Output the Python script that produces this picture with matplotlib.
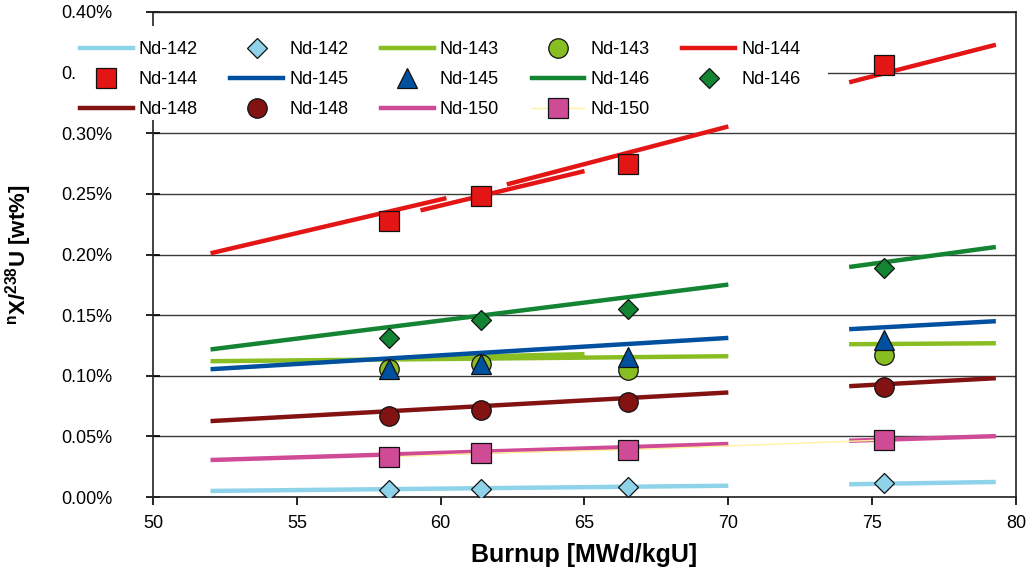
import matplotlib
matplotlib.use("Agg")
import matplotlib.pyplot as plt
from matplotlib.lines import Line2D
from matplotlib.patches import Rectangle
from matplotlib.ticker import FuncFormatter, MultipleLocator

plt.rcParams['font.family'] = ['Liberation Sans', 'DejaVu Sans']
plt.rcParams['mathtext.fontset'] = 'custom'
plt.rcParams['mathtext.rm'] = 'Liberation Sans'
plt.rcParams['mathtext.bf'] = 'Liberation Sans:bold'

# ---- data (y in wt%) ----
burnup = [58.2, 61.4, 66.5, 75.4]

nd142_meas = [0.0060, 0.0066, 0.0080, 0.0115]
nd143_meas = [0.1054, 0.1100, 0.1050, 0.1170]
nd144_meas = [0.2280, 0.2480, 0.2750, 0.3560]
nd145_meas = [0.1054, 0.1098, 0.1156, 0.1296]
nd146_meas = [0.1310, 0.1460, 0.1550, 0.1890]
nd148_meas = [0.0670, 0.0720, 0.0780, 0.0910]
nd150_meas = [0.0330, 0.0360, 0.0390, 0.0470]

# calculated trend segments: list of [x0, x1] and [y0, y1]
nd142_fit_x = [[52.0, 70.0], [74.2, 79.3]]
nd142_fit_y = [[0.0050, 0.0093], [0.0105, 0.0124]]
nd143_fit_x = [[52.0, 70.0], [59.3, 65.0], [74.2, 79.3]]
nd143_fit_y = [[0.1120, 0.1161], [0.1150, 0.1178], [0.1260, 0.1268]]
nd144_fit_x = [[52.0, 60.2], [59.3, 65.0], [62.3, 70.0], [74.2, 79.3]]
nd144_fit_y = [[0.2010, 0.2465], [0.2364, 0.2688], [0.2578, 0.3056], [0.3420, 0.3730]]
nd145_fit_x = [[52.0, 70.0], [74.2, 79.3]]
nd145_fit_y = [[0.1054, 0.1312], [0.1384, 0.1450]]
nd146_fit_x = [[52.0, 70.0], [74.2, 79.3]]
nd146_fit_y = [[0.1217, 0.1752], [0.1897, 0.2062]]
nd148_fit_x = [[52.0, 70.0], [74.2, 79.3]]
nd148_fit_y = [[0.0626, 0.0862], [0.0914, 0.0980]]
nd150_fit_x = [[52.0, 70.0], [74.2, 79.3]]
nd150_fit_y = [[0.0305, 0.0437], [0.0464, 0.0502]]

labels = ['Nd-142', 'Nd-143', 'Nd-144', 'Nd-145', 'Nd-146', 'Nd-148', 'Nd-150']
colors = ['#8FD3EA', '#88BE22', '#E41515', '#0050A0', '#128432', '#831213', '#D04B96']
markers = ['D', 'o', 's', '^', 'D', 'o', 's']
msizes = [10.5, 14, 14, 14, 10.5, 14, 14]
meas = [nd142_meas, nd143_meas, nd144_meas, nd145_meas, nd146_meas, nd148_meas, nd150_meas]
fits_x = [nd142_fit_x, nd143_fit_x, nd144_fit_x, nd145_fit_x, nd146_fit_x, nd148_fit_x, nd150_fit_x]
fits_y = [nd142_fit_y, nd143_fit_y, nd144_fit_y, nd145_fit_y, nd146_fit_y, nd148_fit_y, nd150_fit_y]

W, H = 1031, 574
fig = plt.figure(figsize=(W / 100, H / 100), dpi=100)
ax = fig.add_axes([153 / W, 1 - 497 / H, (1016 - 153) / W, (497 - 12) / H])

ax.set_xlim(50, 80)
ax.set_ylim(0, 0.40)
ax.xaxis.set_major_locator(MultipleLocator(5))
ax.yaxis.set_major_locator(MultipleLocator(0.05))
ax.yaxis.set_major_formatter(FuncFormatter(lambda v, p: f"{v:.2f}%"))
ax.grid(axis='y', color='#3a3a3a', lw=1.0)
ax.set_axisbelow(True)
for s in ax.spines.values():
    s.set_color('#222222')
    s.set_linewidth(1.2)
ax.tick_params(axis='x', direction='out', length=6, width=1.2, pad=7, labelsize=13)
ax.tick_params(axis='y', direction='inout', length=10, width=1.2, pad=24, labelsize=13)

line_handles = []
marker_handles = []
for i, lab in enumerate(labels):
    for xs, ys in zip(fits_x[i], fits_y[i]):
        ax.plot(xs, ys, color=colors[i], lw=3.2, solid_capstyle='butt', zorder=2)
    line_handles.append(Line2D([], [], color=colors[i], lw=3.2))
for i, lab in enumerate(labels):
    if lab == 'Nd-150':
        ax.plot(burnup, meas[i], color='#FFF3A0', lw=1.0, zorder=2.5)
        ls = '-'
    else:
        ls = 'none'
    ax.plot(burnup, meas[i], ls='none', marker=markers[i], ms=msizes[i],
            mfc=colors[i], mec='#111111', mew=0.9, zorder=3)
    marker_handles.append(Line2D([], [], ls=ls, color='#FFF3A0', lw=1.0,
                                 marker=markers[i], ms=msizes[i],
                                 mfc=colors[i], mec='#111111', mew=0.9))

ax.set_xlabel('Burnup [MWd/kgU]', fontsize=18, fontweight='bold', labelpad=8)
ax.set_ylabel(r'$^{\mathbf{n}}$X/$^{\mathbf{238}}$U [wt%]', fontsize=16, fontweight='bold')
ax.yaxis.set_label_coords(-(153 - 34) / (1016 - 153), 0.5)

# legend: row-major order of entries
entries = []
lab_entries = []
for i, lab in enumerate(labels):
    entries += [line_handles[i], marker_handles[i]]
    lab_entries += [lab, lab]
order = [0, 5, 10, 1, 6, 11, 2, 7, 12, 3, 8, 13, 4, 9]
h_ord = [entries[k] for k in order]
l_ord = [lab_entries[k] for k in order]

fig.patches.append(Rectangle((75 / W, 1 - 120 / H), (828 - 75) / W, (120 - 26) / H,
                             transform=fig.transFigure, facecolor='white',
                             edgecolor='none', zorder=4))
fig.legend(h_ord, l_ord, ncol=5, loc='upper left', bbox_to_anchor=(80 / W, 1 - 41 / H),
           frameon=False, fontsize=13, handlelength=2.93, handletextpad=0.33,
           columnspacing=1.8, labelspacing=0.72, borderpad=0, borderaxespad=0)

fig.savefig('out.png', dpi=100)
